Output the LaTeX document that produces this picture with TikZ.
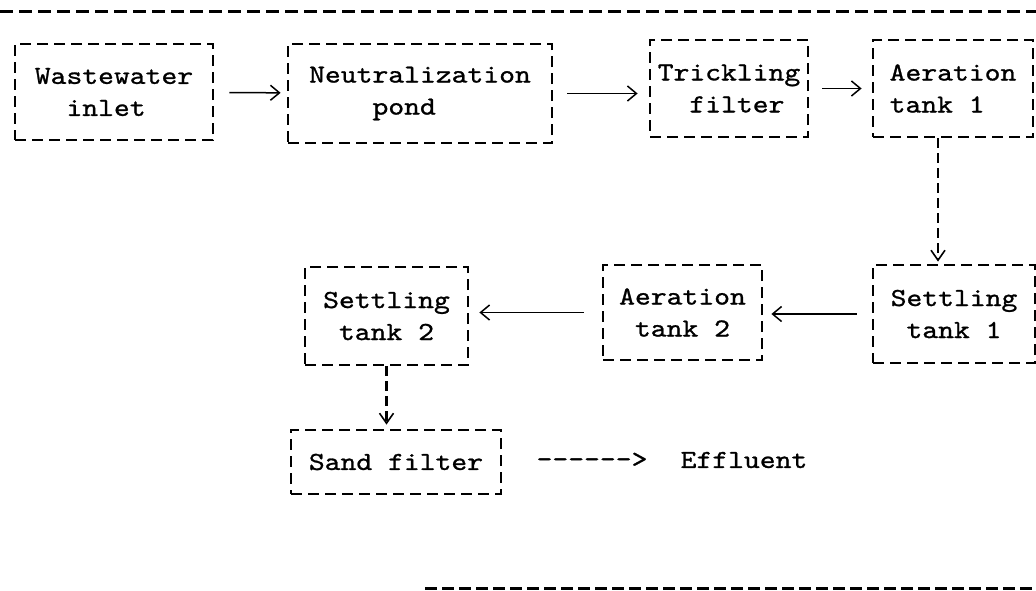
\documentclass[tikz,border=0pt]{standalone}
\usepackage{fontspec}
\usetikzlibrary{arrows.meta}
% typewriter face used for every label, widened and darkened
\newfontfamily\typedface{lmmono10-regular.otf}[FakeBold=1.0,FakeStretch=1.16]
\newcommand\typed{\typedface\fontsize{26}{32}\selectfont}
% indent by n character cells of the monospaced font
\newcommand\ind[1]{\hspace*{#1\fontcharwd\font`x}}
\begin{document}
\begin{tikzpicture}[x=1pt,y=-1pt,
  stage/.style={draw, line width=2.8pt, dash pattern=on 11pt off 6pt,
    inner sep=0pt, align=left, font=\typed},
  flow/.style={line width=1.5pt, -{Straight Barb[length=9pt,width=15pt,line width=1.5pt]}},
  dflow/.style={line width=2.6pt, dash pattern=on 10pt off 5pt,
    -{Straight Barb[length=10pt,width=14pt,line width=1.6pt]}},
  rule/.style={line width=3pt, dash pattern=on 13pt off 6pt},
  plain/.style={font=\typed, inner sep=0pt}
]
\useasboundingbox (0,0) rectangle (1036,590);

% frame rules
\coordinate (tl) at (0,11);
\coordinate (tr) at (1036,11);
\coordinate (bl) at (425,588);
\coordinate (br) at (1036,588);
\draw[rule] (tl) -- (tr);
\draw[rule, dash pattern=on 12pt off 5pt] (bl) -- (br);

% treatment stages
\node[stage, minimum width=198pt, minimum height=96pt] (inlet) at (114,92)
  {Wastewater\\\ind{2}inlet};
\node[stage, minimum width=264pt, minimum height=99pt] (neut) at (420,93.5)
  {Neutralization\\\ind{4}pond};
\node[stage, minimum width=158pt, minimum height=97pt] (trick) at (729,88.5)
  {Trickling\\\ind{2}filter};
\node[stage, minimum width=160pt, minimum height=97pt] (aer1) at (953,88.5)
  {Aeration\\tank 1};
\node[stage, minimum width=162pt, minimum height=98pt] (set1) at (954,314)
  {Settling\\\ind{1}tank 1};
\node[stage, minimum width=159pt, minimum height=95pt] (aer2) at (682.5,312.5)
  {Aeration\\\ind{1}tank 2};
\node[stage, minimum width=163pt, minimum height=98pt] (set2) at (386.5,316)
  {Settling\\\ind{1}tank 2};
\node[stage, minimum width=210pt, minimum height=64pt] (sand) at (396,462)
  {Sand filter};

% effluent
\node[plain] (dashes) at (592,460) {------>};
\node[plain] (eff) at (744,460) {Effluent};

% connectors
\draw[flow, shorten <=15pt, shorten >=6pt] (inlet) -- (neut);
\draw[flow, shorten <=14pt, shorten >=11pt] (neut.east) -- (neut.east -| trick.west);
\draw[flow, shorten <=13pt, shorten >=10pt] (trick) -- (aer1);
\draw[dflow, shorten >=2pt] ([xshift=-15pt]aer1.south) -- ([xshift=-16pt]set1.north);
\draw[flow, shorten <=15pt, shorten >=8pt] (set1.west) -- (set1.west -| aer2.east);
\draw[flow, shorten <=18pt, shorten >=10pt] (aer2.west) -- (aer2.west -| set2.east);
\draw[dflow, shorten >=4pt] (set2.south) -- (set2.south |- sand.north);
\end{tikzpicture}
\end{document}
